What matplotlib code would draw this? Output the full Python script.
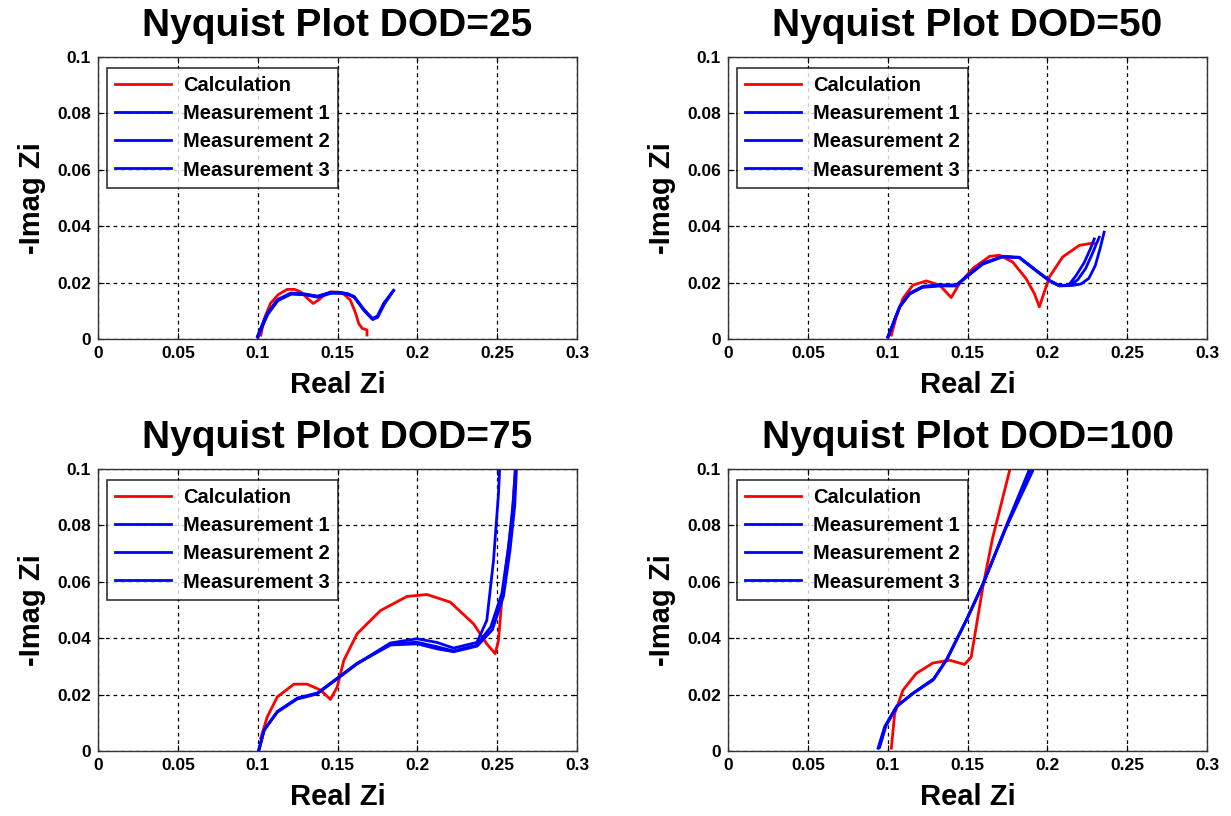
import matplotlib
matplotlib.use("Agg")
import matplotlib.pyplot as plt
import numpy as np

# ---------------- data ----------------
titles = ["Nyquist Plot DOD=25", "Nyquist Plot DOD=50", "Nyquist Plot DOD=75", "Nyquist Plot DOD=100"]
series_names = ["Calculation", "Measurement 1", "Measurement 2", "Measurement 3"]
x_ticks = [0, 0.05, 0.1, 0.15, 0.2, 0.25, 0.3]
x_tick_labels = ["0", "0.05", "0.1", "0.15", "0.2", "0.25", "0.3"]
y_ticks = [0, 0.02, 0.04, 0.06, 0.08, 0.1]
y_tick_labels = ["0", "0.02", "0.04", "0.06", "0.08", "0.1"]

# DOD = 25
calc25_x = [0.102, 0.104, 0.108, 0.113, 0.1185, 0.123, 0.127, 0.131, 0.1348, 0.1385, 0.1415, 0.1456, 0.150, 0.154, 0.158, 0.161, 0.1633, 0.1654, 0.1685, 0.1685]
calc25_y = [0.0014, 0.0070, 0.0126, 0.0158, 0.0176, 0.0176, 0.0167, 0.0145, 0.0126, 0.0140, 0.0155, 0.0167, 0.0166, 0.0159, 0.0138, 0.0097, 0.0055, 0.0038, 0.0032, 0.0014]
m1_25_x = [0.0998, 0.103, 0.106, 0.1123, 0.1206, 0.129, 0.1373, 0.1456, 0.1519, 0.156, 0.1602, 0.1665, 0.1717, 0.1748, 0.179, 0.1852]
m1_25_y = [0.0008, 0.0052, 0.0090, 0.0138, 0.0161, 0.0159, 0.0150, 0.0164, 0.0164, 0.0160, 0.0150, 0.0102, 0.0071, 0.0079, 0.0126, 0.0173]
m2_25_x = [0.1000, 0.1032, 0.1062, 0.1125, 0.1208, 0.1292, 0.1375, 0.1458, 0.1521, 0.1562, 0.1604, 0.1667, 0.1719, 0.1750, 0.1792, 0.1850]
m2_25_y = [0.0010, 0.0055, 0.0092, 0.0140, 0.0163, 0.0160, 0.0152, 0.0166, 0.0165, 0.0161, 0.0151, 0.0104, 0.0073, 0.0081, 0.0128, 0.0171]
m3_25_x = [0.1002, 0.1034, 0.1064, 0.1127, 0.1210, 0.1294, 0.1377, 0.1460, 0.1523, 0.1564, 0.1606, 0.1669, 0.1721, 0.1752, 0.1794, 0.1848]
m3_25_y = [0.0006, 0.0050, 0.0088, 0.0136, 0.0159, 0.0157, 0.0148, 0.0162, 0.0162, 0.0158, 0.0148, 0.0100, 0.0069, 0.0077, 0.0124, 0.0169]

# DOD = 50
calc50_x = [0.1023, 0.1054, 0.1096, 0.1158, 0.1242, 0.1325, 0.1398, 0.145, 0.1533, 0.1638, 0.170, 0.1783, 0.1867, 0.1919, 0.195, 0.1981, 0.2013, 0.2096, 0.220, 0.2283, 0.2300]
calc50_y = [0.0014, 0.0079, 0.0144, 0.0191, 0.0206, 0.0191, 0.0147, 0.0197, 0.0250, 0.0293, 0.0297, 0.0273, 0.0214, 0.0161, 0.0114, 0.0167, 0.0220, 0.0291, 0.0332, 0.0340, 0.0338]
m1_50_x = [0.1002, 0.1075, 0.1138, 0.122, 0.1325, 0.1429, 0.1492, 0.1596, 0.172, 0.1825, 0.1929, 0.2013, 0.2075, 0.2158, 0.2210, 0.2260, 0.2300, 0.2330, 0.2356]
m1_50_y = [0.0008, 0.0114, 0.0161, 0.0185, 0.0190, 0.0190, 0.0220, 0.0267, 0.0293, 0.0290, 0.0244, 0.0208, 0.0190, 0.0190, 0.0195, 0.0215, 0.0260, 0.0320, 0.0379]
m2_50_x = [0.1004, 0.1077, 0.1140, 0.1222, 0.1327, 0.1431, 0.1494, 0.1598, 0.1722, 0.1827, 0.1931, 0.2015, 0.2077, 0.2140, 0.2190, 0.2240, 0.2280, 0.2325]
m2_50_y = [0.0010, 0.0116, 0.0163, 0.0187, 0.0192, 0.0192, 0.0222, 0.0270, 0.0292, 0.0288, 0.0242, 0.0206, 0.0188, 0.0190, 0.0210, 0.0250, 0.0300, 0.0361]
m3_50_x = [0.1000, 0.1073, 0.1136, 0.1218, 0.1323, 0.1427, 0.1490, 0.1594, 0.1718, 0.1823, 0.1927, 0.2011, 0.2073, 0.2135, 0.2180, 0.2230, 0.2270, 0.2294]
m3_50_y = [0.0006, 0.0112, 0.0159, 0.0183, 0.0188, 0.0188, 0.0218, 0.0265, 0.0291, 0.0289, 0.0243, 0.0207, 0.0189, 0.0192, 0.0225, 0.0270, 0.0320, 0.0355]

# DOD = 75
calc75_x = [0.1019, 0.106, 0.1123, 0.1227, 0.131, 0.1394, 0.1456, 0.1498, 0.154, 0.1623, 0.1769, 0.1935, 0.206, 0.2206, 0.2352, 0.2435, 0.2488, 0.2508, 0.2529, 0.256, 0.2592, 0.2613, 0.2625]
calc75_y = [0.0045, 0.0121, 0.0192, 0.0237, 0.0237, 0.0216, 0.0183, 0.0227, 0.0322, 0.0416, 0.0498, 0.0548, 0.0555, 0.0528, 0.0451, 0.0380, 0.0345, 0.0392, 0.0534, 0.0675, 0.0816, 0.0993, 0.1050]
m1_75_x = [0.1008, 0.104, 0.1123, 0.1248, 0.1373, 0.1498, 0.1623, 0.1831, 0.1998, 0.2123, 0.2227, 0.2373, 0.2435, 0.2477, 0.2508, 0.2520]
m1_75_y = [0.0004, 0.0074, 0.0139, 0.0186, 0.0204, 0.0257, 0.0310, 0.0383, 0.0398, 0.0385, 0.0365, 0.0385, 0.0463, 0.0675, 0.0910, 0.1050]
m2_75_x = [0.1006, 0.1038, 0.1121, 0.1246, 0.1371, 0.1496, 0.1621, 0.1829, 0.1996, 0.2121, 0.2225, 0.2371, 0.2460, 0.2530, 0.2570, 0.2600, 0.2620]
m2_75_y = [0.0002, 0.0072, 0.0137, 0.0184, 0.0202, 0.0255, 0.0308, 0.0378, 0.0386, 0.0370, 0.0355, 0.0375, 0.0440, 0.0560, 0.0720, 0.0880, 0.1050]
m3_75_x = [0.1010, 0.1042, 0.1125, 0.1250, 0.1375, 0.1500, 0.1625, 0.1833, 0.2000, 0.2125, 0.2229, 0.2375, 0.2470, 0.2540, 0.2580, 0.2610, 0.2625]
m3_75_y = [0.0006, 0.0076, 0.0141, 0.0188, 0.0206, 0.0259, 0.0312, 0.0376, 0.0380, 0.0362, 0.0352, 0.0372, 0.0430, 0.0550, 0.0710, 0.0870, 0.1050]

# DOD = 100
calc100_x = [0.1023, 0.1044, 0.1096, 0.1179, 0.1283, 0.1388, 0.1481, 0.1523, 0.1554, 0.1596, 0.1658, 0.1763, 0.1780]
calc100_y = [0.0010, 0.0133, 0.0216, 0.0275, 0.0312, 0.0322, 0.0307, 0.0333, 0.0439, 0.0581, 0.0757, 0.0993, 0.1050]
m1_100_x = [0.0940, 0.0981, 0.1054, 0.1158, 0.1283, 0.1367, 0.1492, 0.1596, 0.1742, 0.1908, 0.1935]
m1_100_y = [0.0010, 0.0086, 0.0157, 0.0204, 0.0251, 0.0322, 0.0463, 0.0592, 0.0793, 0.0993, 0.1050]
m2_100_x = [0.0945, 0.0985, 0.1058, 0.1162, 0.1287, 0.1371, 0.1496, 0.1600, 0.1740, 0.1895, 0.1925]
m2_100_y = [0.0012, 0.0088, 0.0159, 0.0206, 0.0254, 0.0326, 0.0468, 0.0596, 0.0790, 0.0990, 0.1050]
m3_100_x = [0.0950, 0.0990, 0.1062, 0.1166, 0.1291, 0.1375, 0.1500, 0.1604, 0.1735, 0.1880, 0.1915]
m3_100_y = [0.0014, 0.0090, 0.0161, 0.0208, 0.0257, 0.0329, 0.0472, 0.0600, 0.0788, 0.0988, 0.1050]

panels = [
    [(calc25_x, calc25_y), (m1_25_x, m1_25_y), (m2_25_x, m2_25_y), (m3_25_x, m3_25_y)],
    [(calc50_x, calc50_y), (m1_50_x, m1_50_y), (m2_50_x, m2_50_y), (m3_50_x, m3_50_y)],
    [(calc75_x, calc75_y), (m1_75_x, m1_75_y), (m2_75_x, m2_75_y), (m3_75_x, m3_75_y)],
    [(calc100_x, calc100_y), (m1_100_x, m1_100_y), (m2_100_x, m2_100_y), (m3_100_x, m3_100_y)],
]
colors = ["#ff0000", "#0000ff", "#0000ff", "#0000ff"]

# ---------------- figure ----------------
plt.rcParams['font.family'] = ['Liberation Sans', 'DejaVu Sans']
plt.rcParams['font.weight'] = 'bold'

W, H = 1231, 816
fig = plt.figure(figsize=(W / 100, H / 100), dpi=100)

lefts = [98, 728]
bottoms = [339, 751]
aw, ah = 479, 282

for i, title in enumerate(titles):
    r, c = divmod(i, 2)
    l = lefts[c]
    b = bottoms[r]
    ax = fig.add_axes([l / W, 1 - b / H, aw / W, ah / H])
    for (xs, ys), col, name in zip(panels[i], colors, series_names):
        ax.plot(xs, ys, color=col, lw=2.0, label=name, solid_joinstyle='round')
    ax.set_xlim(0, 0.3)
    ax.set_ylim(0, 0.1)
    ax.set_xticks(x_ticks)
    ax.set_xticklabels(x_tick_labels)
    ax.set_yticks(y_ticks)
    ax.set_yticklabels(y_tick_labels)
    ax.tick_params(direction='in', top=True, right=True, labelsize=12.5, length=4, width=0.8, pad=5)
    for lab in ax.get_xticklabels() + ax.get_yticklabels():
        lab.set_fontweight('bold')
    ax.grid(True, color='black', linestyle=(0, (3, 3)), linewidth=0.9)
    for sp in ax.spines.values():
        sp.set_linewidth(1.0)
        sp.set_color('#333333')
    ax.set_title(title, fontsize=28, fontweight='bold', pad=15)
    ax.set_xlabel("Real Zi", fontsize=21, fontweight='bold', labelpad=7)
    ax.set_ylabel("-Imag Zi", fontsize=21, fontweight='bold', labelpad=8)
    leg = ax.legend(loc='upper left', bbox_to_anchor=(0.018, 0.96),
                    prop={'weight': 'bold', 'size': 14.5}, frameon=True, fancybox=False,
                    edgecolor='black', handlelength=2.8, handletextpad=0.6,
                    labelspacing=0.45, borderpad=0.4, borderaxespad=0.0)
    leg.get_frame().set_linewidth(1.2)

fig.savefig("out.png", dpi=100)
